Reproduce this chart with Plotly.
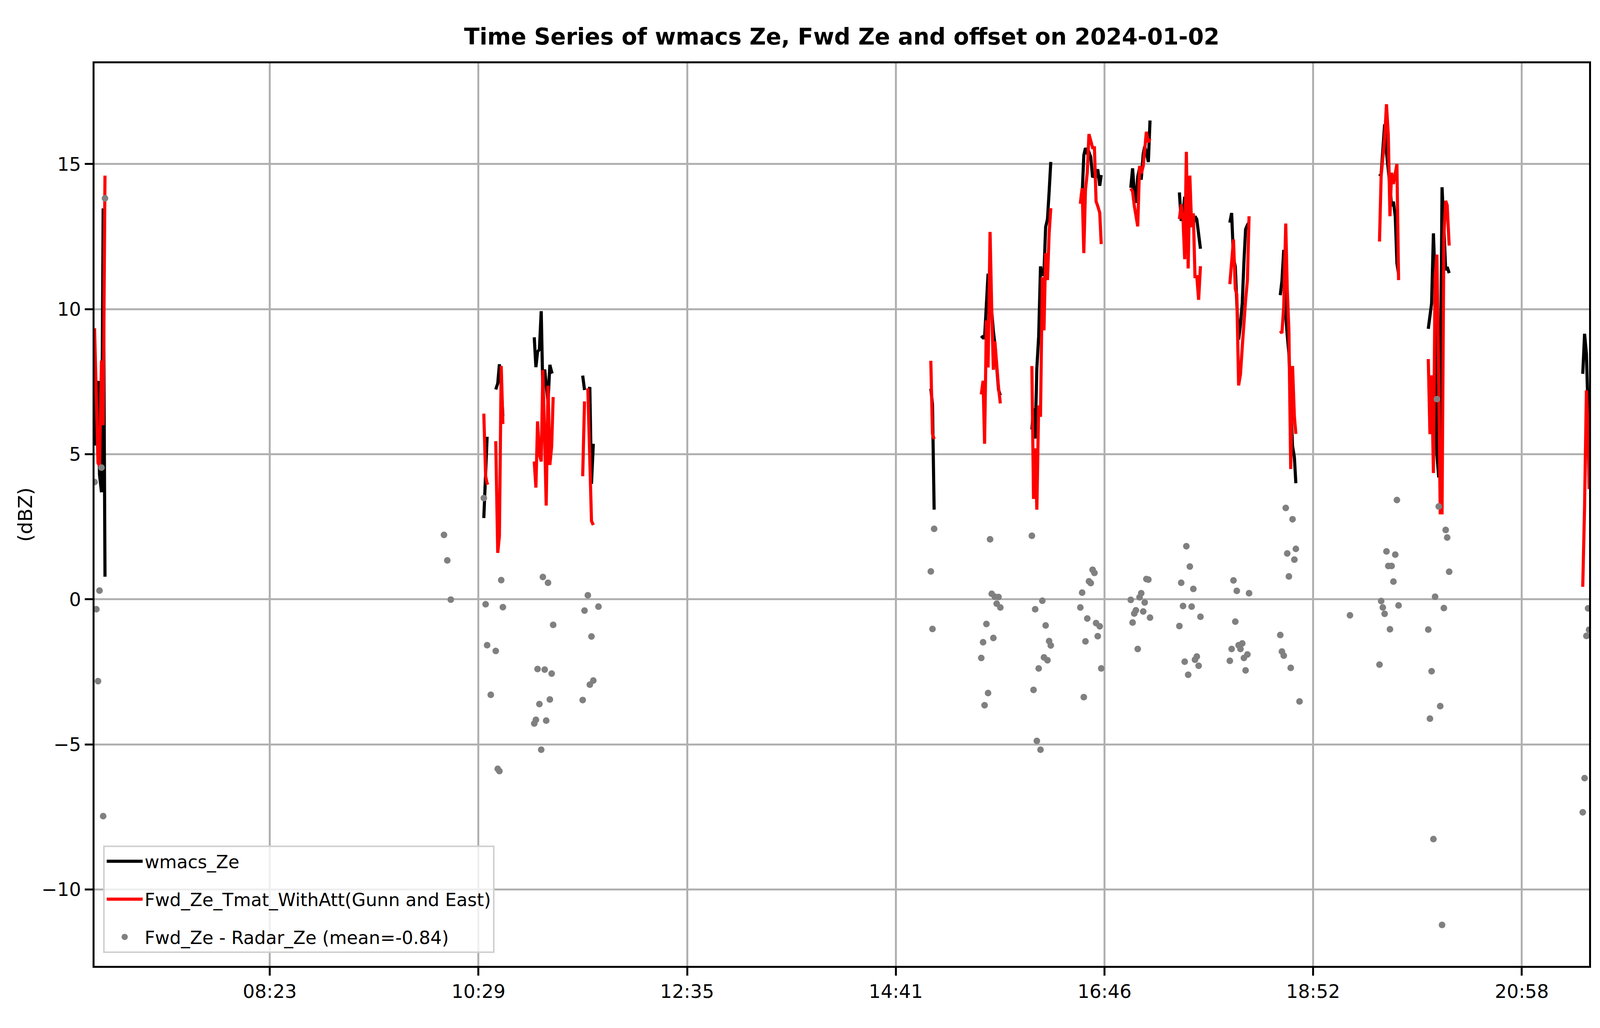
import pandas as pd
import plotly.graph_objects as go

N = None
DATE = "2024-01-02"

# ---- data ----
times = [
    "06:37:36", "06:38:42", "06:39:42", "06:40:36", "06:41:48", "06:42:48", "06:43:54",
    "10:08:12", "10:10:12", "10:12:18",
    "10:32:12", "10:33:18", "10:34:12", "10:35:06", "10:36:24",
    "10:39:24", "10:40:36", "10:41:36", "10:42:42", "10:43:42",
    "11:02:36", "11:03:36", "11:04:36", "11:05:42", "11:06:48", "11:07:48",
    "11:08:54", "11:09:48", "11:10:54", "11:12:00", "11:13:06", "11:14:00",
    "11:31:48", "11:32:54", "11:33:54", "11:34:54", "11:36:06", "11:37:06", "11:38:12", "11:41:18",
    "15:01:36", "15:02:36", "15:03:36",
    "15:32:00", "15:33:06", "15:34:00", "15:35:06", "15:36:06", "15:37:18",
    "15:38:18", "15:39:18", "15:40:12", "15:41:18", "15:42:24", "15:43:30",
    "16:02:30", "16:03:30", "16:04:30", "16:05:30", "16:06:36", "16:07:42",
    "16:08:48", "16:09:48", "16:10:48", "16:11:54", "16:12:54", "16:13:54",
    "16:31:42", "16:32:48", "16:33:48", "16:34:48", "16:35:54", "16:36:54", "16:38:00",
    "16:39:06", "16:40:12", "16:41:12", "16:42:12", "16:43:24", "16:44:18",
    "17:02:06", "17:03:12", "17:04:12", "17:05:12", "17:06:18", "17:07:24",
    "17:08:24", "17:09:36", "17:10:30", "17:11:30", "17:12:42", "17:13:42",
    "17:31:24", "17:32:30", "17:33:36", "17:34:36", "17:35:36", "17:36:42", "17:37:42",
    "17:38:48", "17:39:48", "17:40:48", "17:41:54", "17:43:00", "17:44:06",
    "18:01:48", "18:02:54", "18:04:00", "18:05:06", "18:06:00", "18:07:06",
    "18:08:12", "18:09:18", "18:10:18", "18:11:18", "18:12:24", "18:13:24",
    "18:32:12", "18:33:12", "18:34:18", "18:35:30", "18:36:24", "18:37:24",
    "18:38:30", "18:39:36", "18:40:42", "18:41:36", "18:43:48",
    "19:14:12",
    "19:32:00", "19:33:00", "19:34:00", "19:35:06", "19:36:12", "19:37:18",
    "19:38:18", "19:39:18", "19:40:24", "19:41:30", "19:42:30", "19:43:30",
    "20:01:24", "20:02:24", "20:03:24", "20:04:30", "20:05:30", "20:06:36", "20:07:42",
    "20:08:36", "20:09:42", "20:10:48", "20:11:54", "20:12:48", "20:14:00",
    "21:34:30", "21:35:36", "21:36:42", "21:37:42", "21:38:18",
]

wmacs_ze = [
    5.3, 7.34, 7.52, 4.3, 3.69, 13.47, 0.78,
    N, N, N,
    2.8, 4.4, 5.6, N, N,
    7.23, 7.44, 8.1, 7.38, 6.31,
    9.03, 8.0, 8.53, 8.61, 9.93, 7.13, 7.92, 7.41, 6.79, 8.08, 7.83, 7.85,
    7.71, 7.21, N, 7.13, 7.31, 3.98, 5.36, N,
    7.26, 6.72, 3.09,
    9.08, 9.01, 9.01, 10.46, 11.22, 10.59, 9.81, 9.24, 8.8, 8.15, 7.22, 7.03,
    5.85, 6.58, 5.54, 7.97, 9.06, 11.47, 11.15, 11.27, 12.83, 13.1, 14.04, 15.07,
    13.91, 13.94, 15.3, 15.55, 15.37, 15.41, 15.24, 14.54, 14.65, 14.53, 14.82, 14.25, 14.62,
    14.18, 14.85, 14.06, 13.66, 14.56, 14.86, 14.46, 15.35, 15.6, 15.41, 15.07, 16.5,
    14.02, 13.04, 13.31, 13.87, 13.59, 14.0, 13.47, 13.07, 12.94, 13.2, 13.09, 12.61, 12.08,
    12.98, 13.31, 11.75, 11.47, 10.21, 8.95, 9.46, 10.22, 11.62, 12.75, 12.9, 12.99,
    10.48, 10.97, 12.04, 9.8, 9.1, 8.48, 6.85, 5.28, 4.9, 4.0, N,
    N,
    14.58, 14.65, 15.48, 16.37, 15.41, 14.85, 14.23, 13.55, 13.7, 13.2, 11.58, 11.21,
    9.32, 9.8, 10.2, 12.61, 10.98, 4.98, 4.2, 6.66, 14.2, 12.82, 11.34, 11.45, 11.24,
    7.77, 9.15, 8.46, 6.2, 5.3,
]

fwd_ze = [
    9.34, 7.0, 4.7, 4.6, 8.23, 6.0, 14.6,
    N, N, N,
    6.4, 4.24, 4.0, 4.02, N,
    5.45, 1.6, 2.18, 8.04, 6.04,
    4.75, 3.85, 6.13, 5.0, 4.75, 7.9, 5.5, 3.23, 7.36, 4.63, 5.27, 6.97,
    4.24, 6.82, N, 7.27, 4.37, 2.7, 2.56, N,
    8.22, 5.7, 5.52,
    7.06, 7.53, 5.36, 9.61, 7.99, 12.66, 10.0, 7.91, 8.89, 8.0, 7.3, 6.75,
    8.04, 3.46, 5.2, 3.09, 6.68, 6.29, 11.1, 9.27, 11.93, 11.0, 12.6, 13.48,
    13.63, 14.17, 11.93, 14.1, 14.71, 16.03, 15.8, 15.56, 15.56, 13.71, 13.55, 13.32, 12.24,
    14.16, 14.05, 13.57, 13.28, 12.85, 14.93, 14.67, 14.93, 15.49, 16.11, 15.75, 15.87,
    13.1, 13.61, 13.08, 11.72, 15.42, 11.4, 14.6, 12.82, 13.3, 11.12, 11.12, 10.32, 11.48,
    10.86, 11.6, 12.4, 10.7, 10.5, 7.37, 7.75, 8.7, 9.6, 10.3, 11.0, 13.2,
    9.25, 9.17, 10.1, 12.95, 10.7, 9.27, 4.49, 8.04, 6.3, 5.7, N,
    N,
    12.33, 14.59, 15.2, 15.87, 17.06, 16.0, 13.2, 14.7, 14.31, 14.75, 15.0, 11.0,
    8.28, 5.69, 7.72, 4.35, 11.07, 11.88, 7.4, 2.98, 2.98, 12.52, 13.73, 13.58, 12.19,
    0.43, 3.2, 7.2, 5.9, 3.8,
]

offset = [
    4.04, -0.34, -2.82, 0.30, 4.54, -7.47, 13.82,
    2.22, 1.34, -0.01,
    3.49, -0.17, -1.58, N, -3.29,
    -1.78, -5.84, -5.92, 0.66, -0.27,
    -4.28, -4.15, -2.40, -3.61, -5.18, 0.77, -2.42, -4.18, 0.57, -3.45, -2.56, -0.88,
    -3.47, -0.39, N, 0.14, -2.94, -1.28, -2.80, -0.25,
    0.96, -1.02, 2.43,
    -2.02, -1.48, -3.65, -0.85, -3.23, 2.07, 0.19, -1.33, 0.09, -0.15, 0.08, -0.28,
    2.19, -3.12, -0.34, -4.88, -2.38, -5.18, -0.05, -2.0, -0.9, -2.1, -1.44, -1.59,
    -0.28, 0.23, -3.37, -1.45, -0.66, 0.62, 0.56, 1.02, 0.91, -0.82, -1.27, -0.93, -2.38,
    -0.02, -0.80, -0.49, -0.38, -1.71, 0.07, 0.21, -0.42, -0.11, 0.70, 0.68, -0.63,
    -0.92, 0.57, -0.23, -2.15, 1.83, -2.60, 1.13, -0.25, 0.36, -2.08, -1.97, -2.29, -0.60,
    -2.12, -1.71, 0.65, -0.77, 0.29, -1.58, -1.71, -1.52, -2.02, -2.45, -1.90, 0.21,
    -1.23, -1.80, -1.94, 3.15, 1.58, 0.79, -2.36, 2.76, 1.37, 1.74, -3.52,
    -0.55,
    -2.25, -0.06, -0.28, -0.50, 1.65, 1.15, -1.03, 1.15, 0.61, 1.54, 3.42, -0.21,
    -1.04, -4.11, -2.48, -8.26, 0.09, 6.9, 3.20, -3.68, -11.22, -0.30, 2.39, 2.13, 0.95,
    -7.34, -6.16, -1.26, -0.31, -1.05,
]

tick_times = ["08:23:12", "10:28:58", "12:34:44", "14:40:30", "16:46:18", "18:52:00", "20:57:48"]
tick_labels = ["08:23", "10:29", "12:35", "14:41", "16:46", "18:52", "20:58"]

y_ticks = [-10, -5, 0, 5, 10, 15]
x_start, x_end = "06:37:36", "21:38:18"
y_range = [-12.63, 18.47]

legend_names = ["wmacs_Ze", "Fwd_Ze_Tmat_WithAtt(Gunn and East)", "Fwd_Ze - Radar_Ze (mean=-0.84)"]
title_text = "Time Series of wmacs Ze, Fwd Ze and offset on 2024-01-02"

# ---- build ----
ts = pd.to_datetime([f"{DATE} {t}" for t in times])


def broken(xs, ys, gap_min=2.5):
    """Insert a break where consecutive samples are far apart in time."""
    ox, oy = [], []
    prev = None
    for x, y in zip(xs, ys):
        if prev is not None and (x - prev).total_seconds() / 60.0 > gap_min:
            ox.append(prev + (x - prev) / 2)
            oy.append(None)
        ox.append(x)
        oy.append(y)
        prev = x
    return ox, oy


# the browser viewport is 4096 x 2631
W, H = 4096, 2631
FONT = "DejaVu Sans"
LW = 8

fig = go.Figure()
bx, by = broken(ts, wmacs_ze)
fig.add_trace(go.Scatter(x=bx, y=by, mode="lines", name=legend_names[0], legendgroup="a",
                         line=dict(color="black", width=LW), connectgaps=False))
rx, ry = broken(ts, fwd_ze)
fig.add_trace(go.Scatter(x=rx, y=ry, mode="lines", name=legend_names[1], legendgroup="b",
                         line=dict(color="red", width=LW), connectgaps=False))
fig.add_trace(go.Scatter(x=ts, y=offset, mode="markers", name=legend_names[2], legendgroup="c",
                         marker=dict(color="#808080", size=17, line=dict(width=0))))

axis_common = dict(
    showline=True, linecolor="black", linewidth=4.5, mirror=True,
    ticks="outside", ticklen=20, tickwidth=4.5, tickcolor="black",
    showgrid=True, gridcolor="#b0b0b0", gridwidth=4.5, zeroline=False,
    tickfont=dict(family=FONT, size=48, color="black"),
)

fig.update_layout(
    width=W, height=H,
    margin=dict(l=234, r=36, t=154, b=167, pad=0),
    plot_bgcolor="white", paper_bgcolor="white",
    font=dict(family=FONT, color="black", size=48),
    title=dict(text=f"<b>{title_text}</b>", x=0.5, xref="paper", xanchor="center",
               y=1 - 86 / H, yref="container", yanchor="middle",
               font=dict(family=FONT, size=58, color="black")),
    xaxis=dict(type="date", range=[f"{DATE} {x_start}", f"{DATE} {x_end}"],
               tickmode="array", tickvals=[f"{DATE} {t}" for t in tick_times],
               ticktext=tick_labels, **axis_common),
    yaxis=dict(range=y_range, tickmode="array", tickvals=y_ticks, **axis_common),
    legend=dict(x=0.0058, y=0.0143, xanchor="left", yanchor="bottom",
                traceorder="grouped", tracegroupgap=34,
                bgcolor="rgba(255,255,255,0.8)", bordercolor="#d0d0d0", borderwidth=4,
                font=dict(family=FONT, size=46, color="black"), itemwidth=92),
    showlegend=True,
    annotations=[dict(text="(dBZ)", xref="paper", yref="paper", x=-0.0463, y=0.5,
                      xanchor="center", yanchor="middle", textangle=-90, showarrow=False,
                      font=dict(family=FONT, size=50, color="black"))],
)

fig.write_html("out.html")
